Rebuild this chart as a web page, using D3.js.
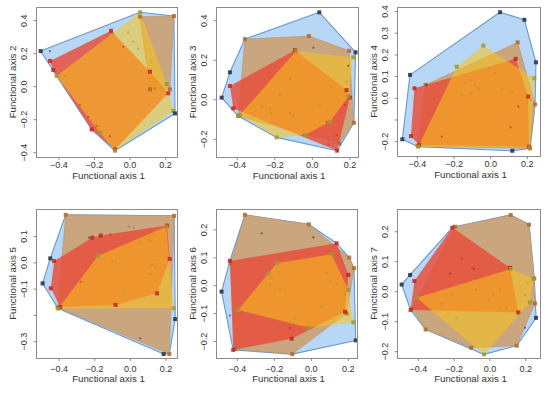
<!DOCTYPE html>
<html><head><meta charset="utf-8">
<script src="https://cdn.jsdelivr.net/npm/d3@7"></script>
<style>body{margin:0;background:#fff}svg{display:block}text{font-family:"Liberation Sans",Arial,sans-serif;fill:#333}</style>
</head><body><svg id="c" width="550" height="393"></svg>
<script>
// ---- data: points per group, per panel (x = functional axis 1, y = axis k) ----
const p1Other=[[-0.503,0.216],[-0.450,0.216],[0.253,-0.162]];
const p1Tan=[[0.247,0.428],[0.056,0.424],[0.112,-0.016],[0.224,-0.016],[0.140,-0.010]];
const p1Red=[[-0.450,0.156],[-0.432,0.101],[-0.107,0.339],[0.215,-0.040],[-0.085,-0.380],[-0.216,-0.259],[-0.282,-0.111],[-0.235,-0.182],[-0.113,-0.299],[-0.188,-0.238],[0.112,0.091],[-0.038,0.242]];
const p1Yellow=[[0.056,0.451],[0.206,0.016],[0.243,-0.147],[-0.085,-0.388],[-0.413,0.065],[-0.094,0.323],[-0.010,0.329],[0.018,0.273],[0.046,0.232],[0.121,0.152],[0.149,0.030],[-0.366,0.065],[-0.169,-0.279]];

const p2Other=[[0.037,0.442],[0.230,0.240],[-0.483,0.011],[-0.439,0.139],[0.191,0.172],[0.005,0.263]];
const p2Tan=[[-0.359,0.307],[-0.018,0.322],[0.196,0.248],[0.221,-0.116],[-0.395,-0.082],[0.144,-0.221]];
const p2Red=[[-0.439,0.070],[-0.421,-0.043],[-0.093,0.251],[0.182,0.049],[0.200,0.012],[0.132,-0.257],[0.085,-0.224],[-0.048,-0.178],[0.129,-0.178],[0.173,-0.026],[0.076,-0.111]];
const p2Yellow=[[-0.088,0.246],[0.218,0.215],[0.191,0.016],[0.094,-0.111],[-0.040,-0.178],[-0.190,-0.190],[-0.386,-0.077],[-0.120,0.105],[-0.173,0.024],[-0.270,-0.035],[-0.226,-0.048],[-0.217,-0.069],[-0.120,-0.069],[-0.102,-0.077],[0.040,-0.032],[0.102,0.061],[0.182,0.091]];

const p3Other=[[0.051,0.397],[0.184,0.362],[0.247,0.166],[0.118,-0.242],[-0.482,-0.189],[-0.440,0.108],[-0.349,0.062]];
const p3Tan=[[0.147,0.258],[0.242,-0.028],[0.215,-0.231],[-0.398,-0.220],[-0.355,0.062]];
const p3Red=[[-0.416,0.046],[-0.435,-0.174],[0.136,0.182],[0.205,0.008],[0.209,-0.223],[-0.391,-0.215],[0.109,-0.134],[-0.267,-0.177],[0.151,-0.038]];
const p3Yellow=[[-0.040,0.243],[-0.185,0.146],[0.238,0.092],[0.220,-0.008],[0.213,-0.226],[-0.395,-0.223],[-0.009,0.138],[0.024,0.115],[-0.104,0.085],[-0.085,0.062],[-0.140,0.072],[-0.158,0.015],[-0.104,0.023],[-0.067,0.046],[0.060,0.046],[0.115,0.031],[0.202,-0.015]];

const p4Other=[[0.252,-0.214],[0.187,-0.347],[-0.493,-0.078],[-0.450,0.017],[-0.232,0.096],[0.056,-0.287]];
const p4Tan=[[-0.363,0.183],[0.246,0.179],[0.219,-0.347],[-0.409,-0.170],[-0.009,0.138],[0.019,0.134]];
const p4Red=[[-0.428,0.007],[-0.447,-0.097],[-0.214,0.096],[-0.167,0.104],[0.206,0.142],[0.221,0.015],[0.150,-0.116],[-0.083,-0.160],[-0.394,-0.168],[-0.111,0.109],[-0.279,-0.072]];
const p4Yellow=[[-0.182,0.026],[0.202,0.138],[0.243,-0.173],[-0.405,-0.174],[0.056,0.075],[0.112,0.083],[0.131,0.011],[0.122,-0.008],[0.140,-0.014],[0.112,-0.042],[-0.102,0.005],[-0.083,0.009],[-0.037,-0.110]];

const p5Other=[[0.240,-0.196],[-0.485,-0.021],[-0.268,0.188],[0.011,0.173],[-0.440,-0.107]];
const p5Tan=[[-0.359,0.254],[-0.013,0.220],[0.205,0.101],[0.231,0.063],[0.191,-0.099],[-0.103,-0.245],[-0.413,-0.227],[-0.436,0.081]];
const p5Red=[[-0.440,0.089],[0.137,0.152],[0.200,0.039],[0.182,-0.093],[-0.106,-0.190],[-0.422,-0.230],[-0.115,-0.152]];
const p5Yellow=[[-0.395,-0.087],[-0.187,0.081],[0.110,0.113],[0.200,-0.015],[0.227,-0.131],[-0.016,-0.150],[-0.214,0.027],[-0.223,0.001],[-0.169,-0.013],[-0.088,-0.116],[0.056,-0.075],[0.101,0.015],[0.083,0.045],[0.137,0.005],[0.182,-0.029],[-0.232,0.045]];

const p6Other=[[0.258,-0.087],[-0.493,0.024],[-0.446,0.056],[0.196,-0.120]];
const p6Tan=[[0.116,0.256],[0.219,0.224],[0.248,0.044],[0.252,-0.039],[0.150,-0.180],[-0.105,-0.187],[-0.359,-0.126],[-0.195,0.217],[-0.436,-0.056]];
const p6Red=[[-0.210,0.214],[0.112,0.080],[0.159,-0.069],[-0.443,-0.061],[-0.422,0.036],[-0.158,0.111],[-0.098,0.080],[-0.089,0.076],[-0.223,0.061]];
const p6Yellow=[[-0.409,-0.020],[0.116,0.076],[0.243,0.044],[0.224,-0.036],[0.168,-0.072],[-0.033,-0.209],[-0.210,-0.009],[-0.269,-0.042],[-0.078,0.006],[-0.005,-0.028],[0.019,-0.008],[0.057,0.008],[0.057,-0.056],[0.094,-0.053],[-0.186,-0.089],[0.196,-0.011],[0.211,0.028],[0.215,-0.031]];

const xTicks=[-0.4,-0.2,0,0.2];
const yTicks1=[-0.4,-0.2,0,0.2,0.4];
const yTicks2=[-0.2,0,0.2,0.4];
const yTicks3=[-0.2,-0.1,0,0.1,0.2,0.3,0.4];
const yTicks4=[-0.3,-0.2,-0.1,0,0.1];
const yTicks5=[-0.2,-0.1,0,0.1,0.2];
const yTicks6=[-0.2,-0.1,0,0.1,0.2];
const yHidden3=[-0.1], yHidden4=[-0.2];
const yAxisNames=["Functional axis 2","Functional axis 3","Functional axis 4","Functional axis 5","Functional axis 6","Functional axis 7"];
const xAxisName="Functional axis 1";

// ---- layout ----
const boxes=[[36,7,141,150],[216,7,142,150],[397,7,143,149],[36,209,141,149],[216,209,141,149],[397,209,143,149]];
const xDomains=[[-0.529,0.264],[-0.513,0.243],[-0.511,0.269],[-0.530,0.262],[-0.515,0.247],[-0.519,0.280]];
const yDomains=[[-0.426,0.483],[-0.289,0.469],[-0.266,0.421],[-0.362,0.205],[-0.259,0.275],[-0.221,0.276]];
const groupsByPanel=[[p1Other,p1Tan,p1Red,p1Yellow],[p2Other,p2Tan,p2Red,p2Yellow],[p3Other,p3Tan,p3Red,p3Yellow],[p4Other,p4Tan,p4Red,p4Yellow],[p5Other,p5Tan,p5Red,p5Yellow],[p6Other,p6Tan,p6Red,p6Yellow]];
const yTicksByPanel=[yTicks1,yTicks2,yTicks3,yTicks4,yTicks5,yTicks6];
const yHiddenByPanel=[[],[],yHidden3,yHidden4,[],[]];

const style={
  all:{fill:"#b8d7f6",op:1,stroke:"#6a98cc"},
  tan:{fill:"#c9a67e",op:1,stroke:"#b8946c",pt:"#ad6a2a"},
  red:{fill:"#e8503c",op:0.85,stroke:"none",pt:"#c4231d"},
  yellow:{fill:"#fac31a",op:0.55,stroke:"none",pt:"#9c9a2e"},
  other:{pt:"#1e2f46"}
};
const fmt=v=>(v<0?"\u2212":"")+Math.abs(v).toFixed(1);

const svg=d3.select("#c");
boxes.forEach((b,i)=>{
  const [L,T,Wd,Ht]=b;
  const x=d3.scaleLinear().domain(xDomains[i]).range([L,L+Wd]);
  const y=d3.scaleLinear().domain(yDomains[i]).range([T+Ht,T]);
  const [other,tan,red,yellow]=groupsByPanel[i];
  const g=svg.append("g");
  const cid="clip"+i;
  svg.append("clipPath").attr("id",cid).append("rect").attr("x",L).attr("y",T).attr("width",Wd).attr("height",Ht);
  const pg=g.append("g").attr("clip-path",`url(#${cid})`);
  const line=pts=>"M"+pts.map(p=>[x(p[0]),y(p[1])].join(",")).join("L")+"Z";
  const all=[...other,...tan,...red,...yellow];
  const hulls={all:d3.polygonHull(all),tan:d3.polygonHull(tan),red:d3.polygonHull(red),yellow:d3.polygonHull(yellow)};
  ["all","tan","red","yellow"].forEach(k=>{
    pg.append("path").attr("d",line(hulls[k])).attr("fill",style[k].fill).attr("fill-opacity",style[k].op)
      .attr("stroke",style[k].stroke).attr("stroke-width",k==="all"?1.1:0.6).attr("stroke-linejoin","round");
  });
  // points
  const drawPts=(pts,hull,col)=>{
    const hs=new Set(hull||[]);
    pts.forEach(p=>{
      if(hs.has(p)){
        pg.append("rect").attr("x",x(p[0])-2).attr("y",y(p[1])-2).attr("width",4).attr("height",4).attr("fill",col).attr("fill-opacity",0.85);
      } else {
        pg.append("circle").attr("cx",x(p[0])).attr("cy",y(p[1])).attr("r",1.1).attr("fill",col).attr("fill-opacity",0.6);
      }
    });
  };
  drawPts(tan,hulls.tan,style.tan.pt);
  drawPts(red,hulls.red,style.red.pt);
  drawPts(yellow,hulls.yellow,style.yellow.pt);
  drawPts(other,hulls.all,style.other.pt);
  // box
  g.append("rect").attr("x",L+0.5).attr("y",T+0.5).attr("width",Wd).attr("height",Ht).attr("fill","none").attr("stroke","#8c8c8c").attr("stroke-width",1);
  // x ticks
  const row2=T>100;
  const xl=row2?T+Ht+13.5:T+Ht+10.8;
  xTicks.forEach(v=>{
    g.append("line").attr("x1",x(v)).attr("x2",x(v)).attr("y1",T+Ht+0.5).attr("y2",T+Ht+3).attr("stroke","#8c8c8c");
    g.append("text").attr("x",x(v)).attr("y",xl).attr("text-anchor","middle").attr("font-size",9).text(fmt(v));
  });
  g.append("text").attr("x",L+Wd/2+2).attr("y",row2?T+Ht+23.5:T+Ht+22).attr("text-anchor","middle").attr("font-size",9.7).text(xAxisName);
  // y ticks
  yTicksByPanel[i].forEach(v=>{
    g.append("line").attr("x1",L-2.5).attr("x2",L+0.5).attr("y1",y(v)).attr("y2",y(v)).attr("stroke","#8c8c8c");
    if(yHiddenByPanel[i].includes(v)) return;
    g.append("text").attr("transform",`translate(${L-12.5},${y(v)}) rotate(-90)`).attr("dy","0.35em").attr("text-anchor","middle").attr("font-size",9).text(fmt(v));
  });
  g.append("text").attr("transform",`translate(${L-23},${T+Ht/2}) rotate(-90)`).attr("dy","0.35em").attr("text-anchor","middle").attr("font-size",9.7).text(yAxisNames[i]);
});
</script></body></html>
